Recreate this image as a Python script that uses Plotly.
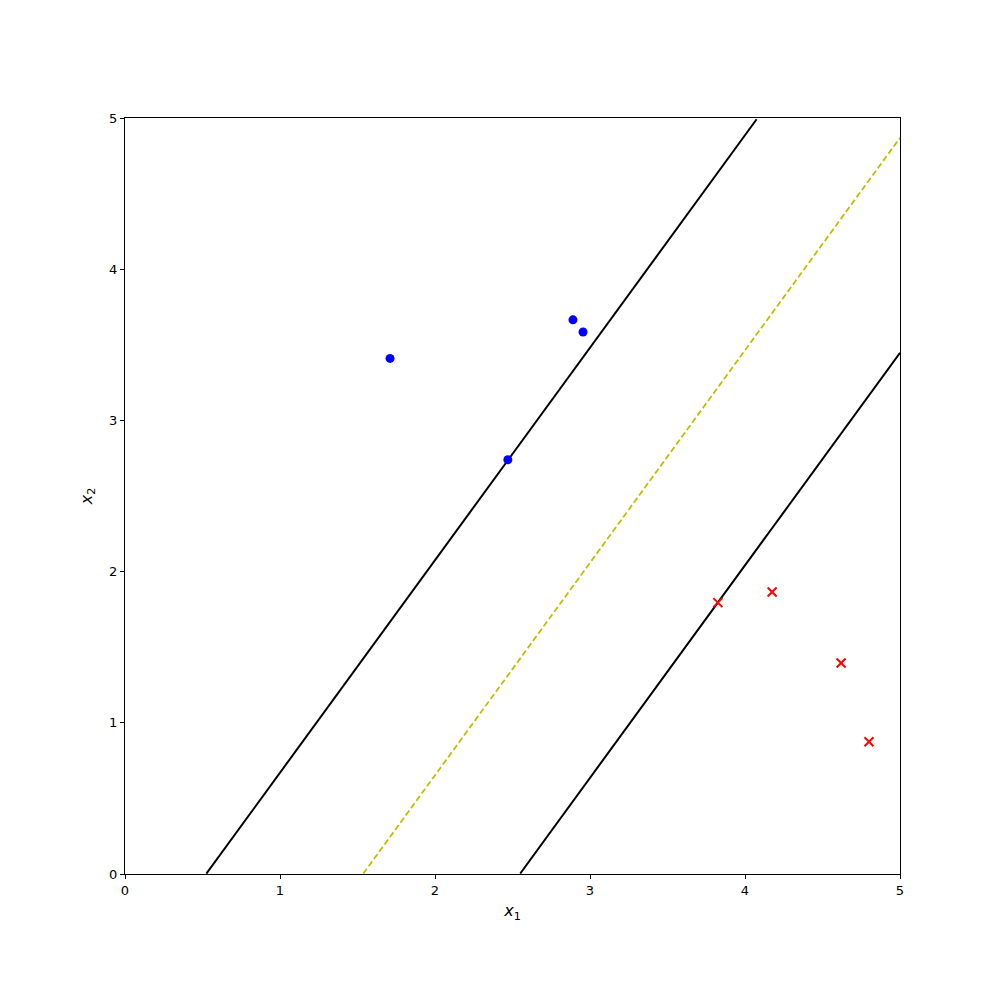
import numpy as np
import plotly.graph_objects as go

# class +1 / -1 samples
pos_x1 = [1.71, 2.89, 2.955, 2.47]
pos_x2 = [3.41, 3.665, 3.585, 2.74]
neg_x1 = [3.825, 4.175, 4.62, 4.80]
neg_x2 = [1.795, 1.865, 1.395, 0.875]

# separating hyperplane w.x + b = 0 and margins w.x + b = +-1
w = [0.988, -0.703]
b = -1.517

tick_vals = [0, 1, 2, 3, 4, 5]


def line_points(offset):
  x1 = np.linspace(0, 5, 401)
  x2 = (offset - b - w[0] * x1) / w[1]
  keep = (x2 >= 0) & (x2 <= 5)
  return x1[keep], x2[keep]


fig = go.Figure()

for off in [1, -1]:
  lx, ly = line_points(off)
  fig.add_trace(go.Scatter(x=lx, y=ly, mode='lines',
                           line=dict(color='black', width=2), showlegend=False))

lx, ly = line_points(0)
fig.add_trace(go.Scatter(x=lx, y=ly, mode='lines',
                         line=dict(color='#bfbf00', width=1.8, dash='6px,3px'),
                         showlegend=False))

fig.add_trace(go.Scatter(x=pos_x1, y=pos_x2, mode='markers',
                         marker=dict(color='#0000ff', size=9, symbol='circle'),
                         showlegend=False))
fig.add_trace(go.Scatter(x=neg_x1, y=neg_x2, mode='markers',
                         marker=dict(color='#ff0000', size=9, symbol='x-thin',
                                     line=dict(color='#ff0000', width=2)),
                         showlegend=False))

axis_style = dict(range=[0, 5], tickvals=tick_vals, ticks='outside', ticklen=4,
                  tickcolor='black', showline=True, linecolor='black', linewidth=1,
                  mirror=True, showgrid=False, zeroline=False,
                  tickfont=dict(family='DejaVu Sans', size=13, color='black'))

# page body has an 8px margin, so the figure is shrunk by that much
fig.update_layout(
    width=992, height=974,
    margin=dict(l=117, r=100, t=110, b=108),
    plot_bgcolor='white', paper_bgcolor='white',
    font=dict(family='DejaVu Sans', size=13, color='black'),
    xaxis=dict(axis_style, title=dict(text='<i>x</i><sub>1</sub>', standoff=8)),
    yaxis=dict(axis_style, title=dict(text='<i>x</i><sub>2</sub>', standoff=12)),
)

fig.write_html("out.html")
